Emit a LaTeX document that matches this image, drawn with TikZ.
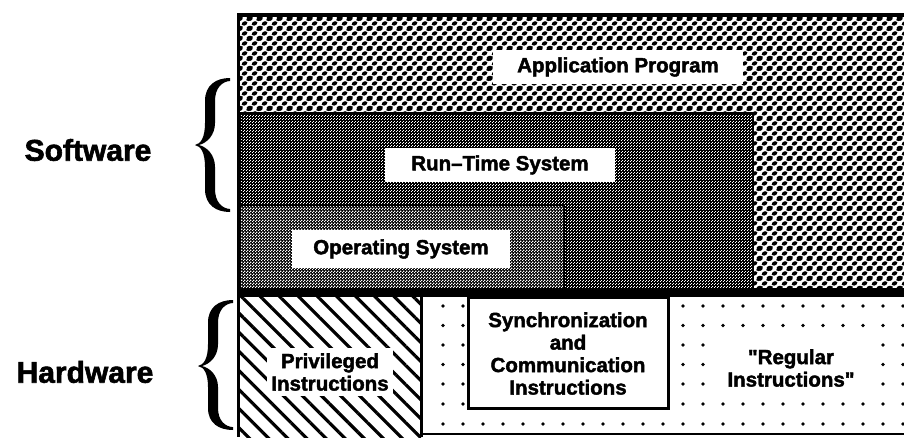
\documentclass[tikz,border=0pt]{standalone}
\usepackage{fontspec}
\setmainfont{Liberation Sans}[Ligatures=TeXOff]
\newfontfamily\heavy{Liberation Sans Bold}[Ligatures=TeXOff, FakeBold=2]
\usetikzlibrary{patterns,patterns.meta}

% one short slanted blob of the application screen
\newcommand\blobat[2]{%
  \pgfpathmoveto{\pgfpoint{#1pt-1.3pt}{#2pt-0.6pt}}%
  \pgfpathlineto{\pgfpoint{#1pt+1.3pt}{#2pt+0.6pt}}}
% coarse blob screen for the application layer
\pgfdeclarepatternformonly{appblobs}{\pgfpointorigin}{\pgfqpoint{10pt}{10pt}}{\pgfqpoint{10pt}{10pt}}{%
  \pgfsetlinewidth{4.1pt}\pgfsetroundcap
  \blobat{0}{0}\blobat{10}{0}\blobat{0}{10}\blobat{10}{10}\blobat{5}{5}%
  \pgfusepath{stroke}}
% fine grain, drawn in white over black
\pgfdeclarepatternformonly{darkgrain}{\pgfpointorigin}{\pgfqpoint{3pt}{3pt}}{\pgfqpoint{3pt}{3pt}}{%
  \pgfpathrectangle{\pgfqpoint{0pt}{0pt}}{\pgfqpoint{1.1pt}{1.1pt}}%
  \pgfpathrectangle{\pgfqpoint{1.5pt}{1.5pt}}{\pgfqpoint{1.1pt}{1.1pt}}%
  \pgfusepath{fill}}
\pgfdeclarepatternformonly{midgrain}{\pgfpointorigin}{\pgfqpoint{3pt}{3pt}}{\pgfqpoint{3pt}{3pt}}{%
  \pgfpathrectangle{\pgfqpoint{0pt}{0pt}}{\pgfqpoint{1.5pt}{1.5pt}}%
  \pgfpathrectangle{\pgfqpoint{1.5pt}{1.5pt}}{\pgfqpoint{1.5pt}{1.5pt}}%
  \pgfusepath{fill}}

% one arm of a curly brace, tip at the origin, arm pointing up
\newcommand\bracearm{%
  \fill (0,0) .. controls (6,-1) and (10,-8) .. (10,-22) -- (10,-44)
    .. controls (10,-60) and (21,-67) .. (35,-67) -- (35,-64)
    .. controls (27,-63.5) and (20,-57) .. (20,-44) -- (20,-22)
    .. controls (20,-10) and (12,-2) .. (4,0) -- cycle;}
% \curlybrace{tip x}{tip y}{upper arm}{lower arm}
\newcommand\curlybrace[4]{%
  \begin{scope}[shift={(#1,#2)}, yscale=#3/67]\bracearm\end{scope}
  \begin{scope}[shift={(#1,#2)}, yscale=-#4/67]\bracearm\end{scope}}

\tikzset{
  layer/.style={anchor=north west, inner sep=0pt, outer sep=0pt},
  tag/.style={fill=white, inner sep=0pt, align=center,
    font=\heavy\fontsize{20.5}{22.5}\selectfont},
  side/.style={font=\heavy\fontsize{30}{32}\selectfont},
}

\begin{document}
\begin{tikzpicture}[x=1pt,y=-1pt]
\useasboundingbox (0,0) rectangle (904,437);

% ---- software layers
\node[layer, minimum width=664pt, minimum height=274pt,
      pattern=appblobs, pattern color=black] (app) at (240,16) {};
\node[tag, minimum width=250pt, minimum height=34pt] (applbl) at (618,67) {Application Program};

\node[layer, draw, line width=1.5pt, minimum width=513pt, minimum height=177pt,
      preaction={fill=black}, pattern=darkgrain, pattern color=white] (rts) at (240,113) {};
\node[tag, minimum width=230pt, minimum height=34pt] (rtslbl) at (500,165) {Run–Time System};

\node[layer, draw, line width=2pt, minimum width=324pt, minimum height=85pt,
      preaction={fill=black}, pattern=midgrain, pattern color=white] (os) at (240,205) {};
\node[tag, minimum width=218pt, minimum height=38pt] (oslbl) at (401,249) {Operating System};

% dividing band and frame
\fill (237,288) rectangle (904,297);
\draw[line width=4pt] (237,15) -- (904,15);
\draw[line width=3pt] (238.5,13) -- (238.5,437);

% ---- hardware layers
\node[layer, minimum width=181pt, minimum height=140pt,
      pattern={Lines[angle=-45,distance=13.5pt,line width=3.2pt]}] (priv) at (240,297) {};
\draw[line width=3pt] (421.5,297) -- (421.5,437);

\foreach \k in {0,...,23}
  \foreach \r in {306,325.5,345,364.5,384,404,424}
    \fill ({443+20*\k},\r) circle (1.8);

\draw[line width=2.5pt] (421,434) -- (904,434);

\node[layer, draw, fill=white, line width=3pt, minimum width=200pt, minimum height=111pt] (sync) at (468,297) {};
\node[tag, fill=none] (synclbl) at ([yshift=-1pt]sync.center) {Synchronization\\and\\Communication\\Instructions};

\node[tag, minimum width=126pt, minimum height=48pt] (privlbl) at (330,372) {Privileged\\Instructions};
\node[tag, minimum width=156pt, minimum height=56pt] (reglbl) at (791,368) {"Regular\\Instructions"};

% ---- side labels and braces
\node[side] (sw) at (88,150) {Software};
\node[side] (hw) at (85,372) {Hardware};
\curlybrace{195}{145}{67}{67}
\curlybrace{198}{366}{66}{64}
\end{tikzpicture}
\end{document}
